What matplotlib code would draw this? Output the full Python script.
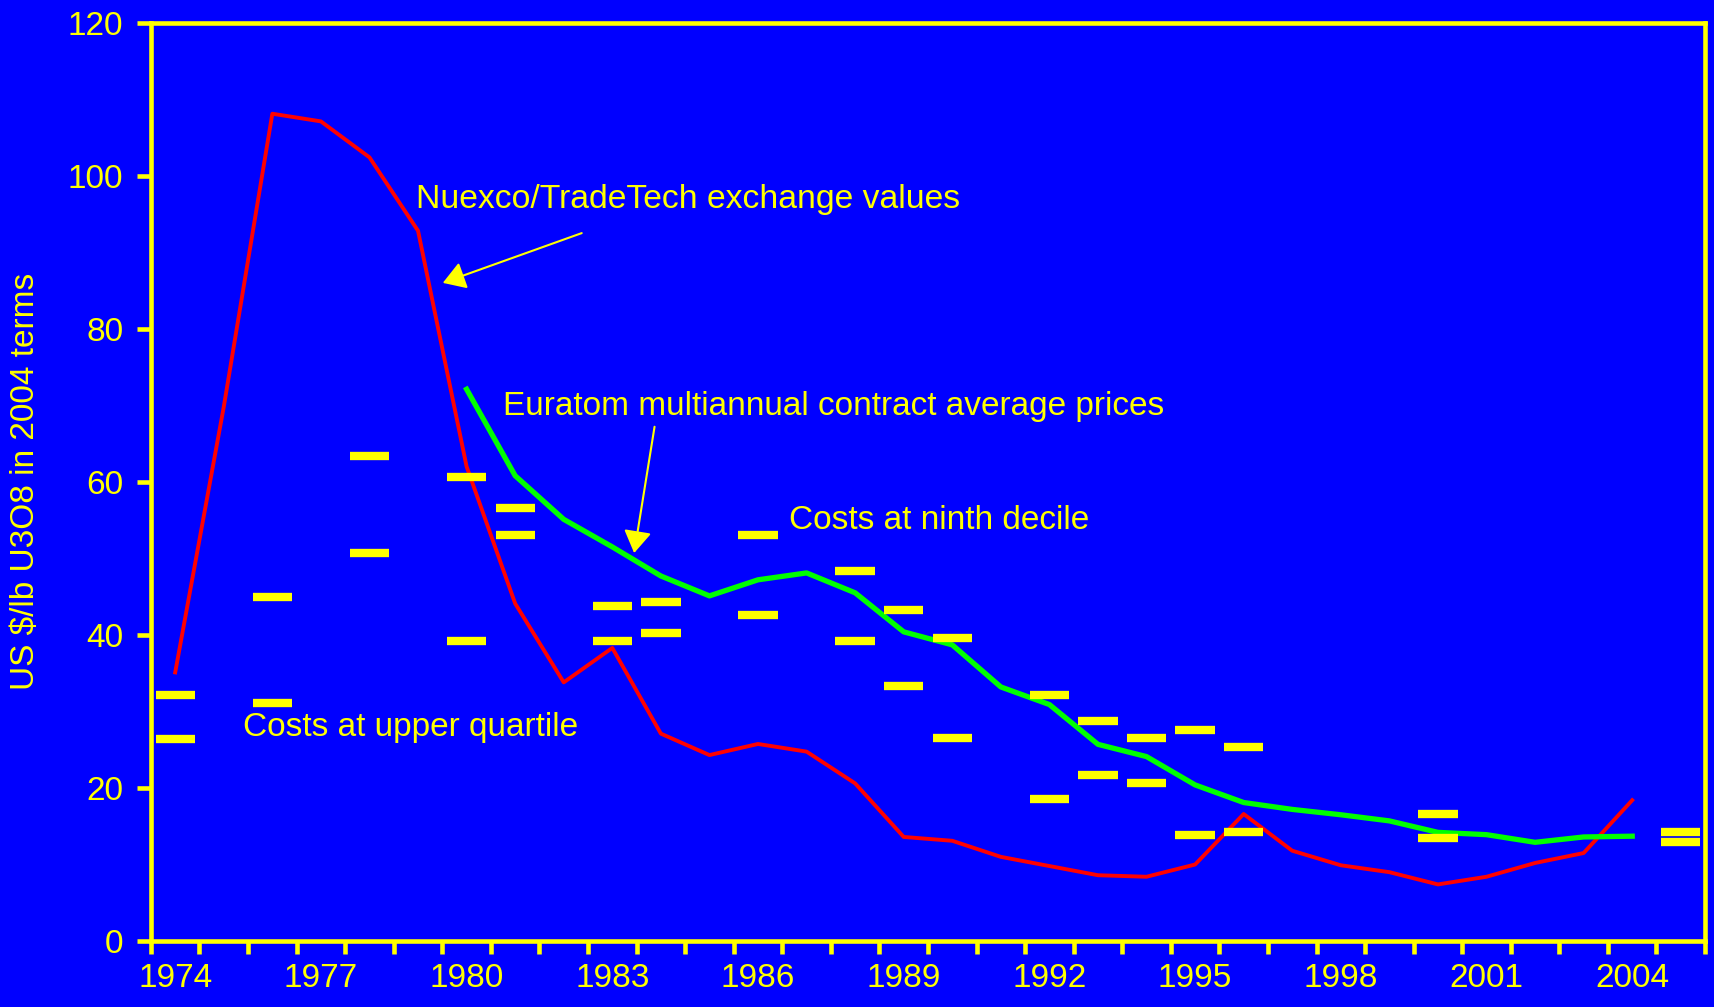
import numpy as np
import matplotlib
matplotlib.use('Agg')
import matplotlib.pyplot as plt

plt.rcParams['font.family'] = ['Liberation Sans', 'DejaVu Sans']

# data (US $/lb U3O8, 2004 terms)
years = list(range(1974, 2006))
nuexco = [35.1, 69.8, 108.1, 107.1, 102.4, 92.8, 62.0, 44.1, 33.8, 38.3,
          27.1, 24.3, 25.75, 24.75, 20.6, 13.6, 13.1, 11.0, 9.8, 8.6,
          8.4, 10.0, 16.6, 11.8, 9.9, 9.0, 7.4, 8.4, 10.2, 11.5, 18.4, np.nan]
euratom = [np.nan] * 6 + [72.1, 60.8, 55.1, 51.5, 47.7, 45.1, 47.2, 48.1, 45.5,
                          40.4, 38.7, 33.2, 30.9, 25.7, 24.1, 20.4, 18.1, 17.2,
                          16.5, 15.7, 14.2, 13.9, 12.9, 13.6, 13.7, np.nan]
cost_years = [1974, 1976, 1978, 1980, 1981, 1983, 1984, 1986, 1988, 1989,
              1990, 1992, 1993, 1994, 1995, 1996, 2000, 2005]
ninth_decile = [32.1, 45.0, 63.4, 60.6, 56.6, 43.8, 44.3, 53.1, 48.3, 43.2,
                39.6, 32.1, 28.8, 26.5, 27.6, 25.3, 16.6, 14.2]
upper_quartile = [26.4, 31.1, 50.7, 39.2, 53.1, 39.2, 40.3, 42.6, 39.2, 33.3,
                  26.5, 18.6, 21.7, 20.6, 13.8, 14.2, 13.5, 13.0]
year_labels = [str(y) if (y - 1974) % 3 == 0 else '' for y in years]

BLUE = '#0000FF'
YEL = '#FFFF00'

fig = plt.figure(figsize=(17.15, 10.07), dpi=100, facecolor=BLUE)
ax = fig.add_axes([0.0880, 0.0655, 0.9062, 0.912])
ax.set_facecolor(BLUE)

x = np.arange(len(years))
ax.plot(x, nuexco, color='#FF0000', lw=2.8, zorder=3)
ax.plot(x, euratom, color='#00FF00', lw=3.8, zorder=3)

# cost dashes, one per year
cx = np.array(cost_years) - years[0]
ax.hlines(ninth_decile, cx - 0.405, cx + 0.405, color=YEL, lw=6, capstyle='butt', zorder=4)
ax.hlines(upper_quartile, cx - 0.405, cx + 0.405, color=YEL, lw=6, capstyle='butt', zorder=4)

ax.set_xlim(-0.5, len(years) - 0.5)
ax.set_ylim(0, 120)

for s in ax.spines.values():
    s.set_color(YEL)
    s.set_linewidth(3.3)

# category axis: ticks between categories, labels at centres
ax.set_xticks(np.arange(-0.5, len(years), 1.0))
ax.set_xticklabels([])
ax.set_xticks(x, minor=True)
ax.set_xticklabels(year_labels, minor=True)
ax.tick_params(axis='x', which='major', direction='out', length=9.5, width=3.3, color=YEL)
ax.tick_params(axis='x', which='minor', length=0, pad=16, labelsize=24, labelcolor=YEL)

ax.set_yticks(range(0, 121, 20))
ax.tick_params(axis='y', direction='out', length=10, width=3.3, color=YEL,
               labelsize=24, labelcolor=YEL, pad=10)

ax.set_ylabel('US $/lb U3O8 in 2004 terms', fontsize=24, color=YEL)
ax.yaxis.set_label_coords(-0.071, 0.5)

ax.text(4.96, 95.8, 'Nuexco/TradeTech exchange values', fontsize=24.3, color=YEL)
ax.text(6.75, 68.8, 'Euratom multiannual contract average prices', fontsize=24, color=YEL)
ax.text(12.64, 53.9, 'Costs at ninth decile', fontsize=24, color=YEL)
ax.text(1.39, 26.8, 'Costs at upper quartile', fontsize=24, color=YEL)

arrow = dict(arrowstyle='-|>,head_length=0.4,head_width=0.25', color=YEL, lw=1.5,
             mutation_scale=34, shrinkA=0, shrinkB=0)
ax.annotate('', xy=(5.51, 86.0), xytext=(8.37, 92.5), arrowprops=arrow)
ax.annotate('', xy=(9.45, 50.7), xytext=(9.87, 67.2), arrowprops=arrow)

fig.savefig('out.png', dpi=100, facecolor=BLUE)
